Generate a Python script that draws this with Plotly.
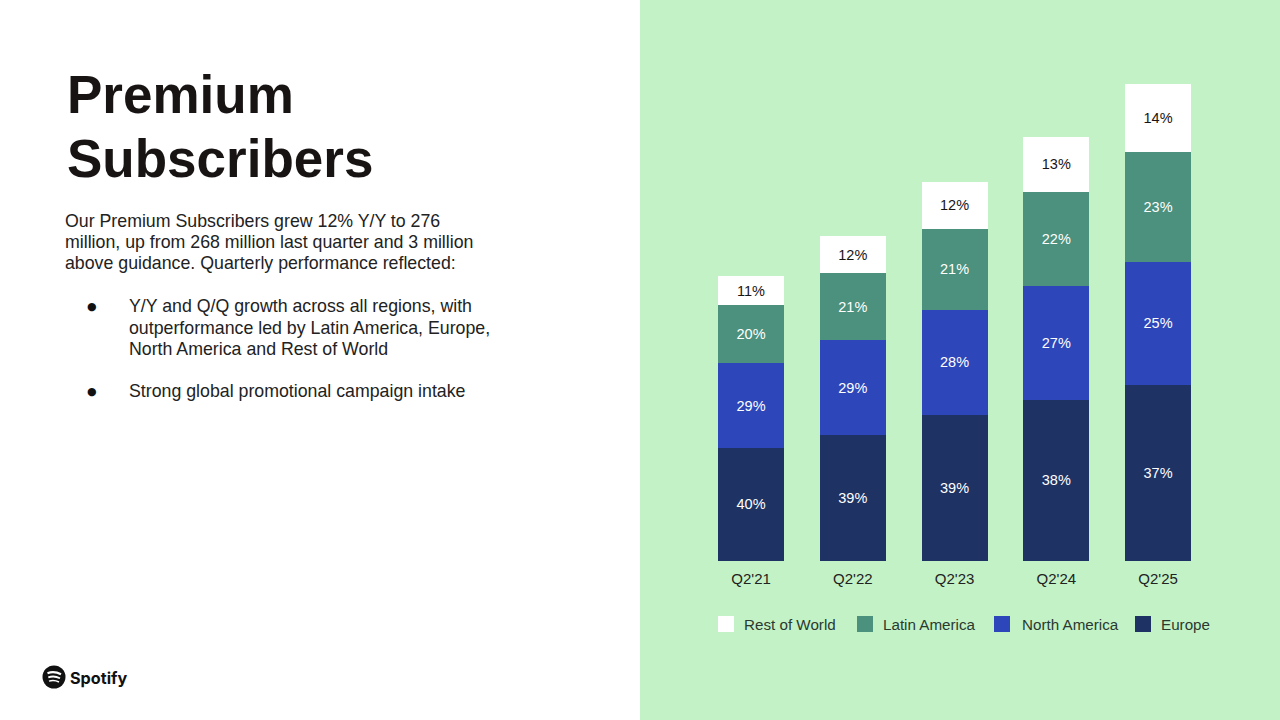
#!/usr/bin/python3
import plotly.graph_objs as go

quarters = ["Q2'21", "Q2'22", "Q2'23", "Q2'24", "Q2'25"]

# subscribers in millions
europe = [65.6, 72.9, 84.5, 93.2, 101.9]
north_america = [48.7, 54.9, 60.8, 66.0, 71.2]
latin_america = [33.6, 38.8, 46.9, 54.4, 63.7]
rest_of_world = [16.8, 21.4, 27.2, 31.8, 39.4]

europe_labels = ['40%', '39%', '39%', '38%', '37%']
north_america_labels = ['29%', '29%', '28%', '27%', '25%']
latin_america_labels = ['20%', '21%', '21%', '22%', '23%']
rest_of_world_labels = ['11%', '12%', '12%', '13%', '14%']

title_lines = ['Premium', 'Subscribers']
intro_lines = [
    'Our Premium Subscribers grew 12% Y/Y to 276',
    'million, up from 268 million last quarter and 3 million',
    'above guidance. Quarterly performance reflected:',
]
bullet_lines = [
    'Y/Y and Q/Q growth across all regions, with',
    'outperformance led by Latin America, Europe,',
    'North America and Rest of World',
]
bullet_two = 'Strong global promotional campaign intake'

FONT = 'Liberation Sans'
W, H = 1280, 720


def px(x):
    return x / W


def py(y):
    return 1 - y / H


def add_text(fig, x, y, text, size, color='#222222', bold=False, family=FONT):
    fig.add_annotation(
        x=px(x), y=py(y), xref='paper', yref='paper', xanchor='left', yanchor='middle',
        text=f'<b>{text}</b>' if bold else text, showarrow=False,
        font=dict(family=family, size=size, color=color), borderpad=0, borderwidth=0,
    )


def add_logo(fig):
    fig.add_shape(type='circle', xref='paper', yref='paper', x0=px(42.5), x1=px(65.5),
                  y0=py(688.5), y1=py(665.5), fillcolor='#111111', line_width=0)
    arcs = [(47.5, 673.2, 54, 670.6, 61, 674.2, 2.2),
            (48.3, 677.4, 54, 675.3, 60, 678.2, 1.8),
            (49, 681.2, 54, 679.6, 59, 682, 1.4)]
    for x0, y0, xc, yc, x1, y1, w in arcs:
        path = f'M {px(x0)} {py(y0)} Q {px(xc)} {py(yc)} {px(x1)} {py(y1)}'
        fig.add_shape(type='path', xref='paper', yref='paper', path=path,
                      line=dict(color='white', width=w))
    add_text(fig, 69.5, 677.5, 'Spotify', 16.2, '#111111', bold=True, family='Inter')


def main():
    fig = go.Figure()

    series = [
        ('Europe', europe, europe_labels, '#1E3264', 'white'),
        ('North America', north_america, north_america_labels, '#2D46B9', 'white'),
        ('Latin America', latin_america, latin_america_labels, '#4B917D', 'white'),
        ('Rest of World', rest_of_world, rest_of_world_labels, '#FFFFFF', '#191414'),
    ]
    for name, values, labels, color, text_color in series:
        fig.add_trace(go.Bar(
            x=quarters, y=values, name=name, text=labels, marker=dict(color=color, line_width=0),
            textposition='inside', insidetextanchor='middle', textangle=0,
            insidetextfont=dict(family=FONT, size=14.5, color=text_color),
        ))

    # green right hand panel
    fig.add_shape(type='rect', xref='paper', yref='paper', x0=0.5, x1=1, y0=0, y1=1,
                  fillcolor='#C3F2C7', line_width=0, layer='below')

    # native legend swatches are fixed at 12px, the slide uses bigger ones
    for x0, (_, _, _, color, _) in zip([1135, 994, 857, 718], series):
        fig.add_shape(type='rect', xref='paper', yref='paper', x0=px(x0), x1=px(x0 + 16),
                      y0=py(632), y1=py(616), fillcolor=color, line_width=0)

    for i, line in enumerate(title_lines):
        add_text(fig, 67, 95 + i * 63, line, 53, '#191414', bold=True)
    for i, line in enumerate(intro_lines):
        add_text(fig, 65, 220.5 + i * 21.5, line, 17.75)
    for i, line in enumerate(bullet_lines):
        add_text(fig, 129, 306 + i * 21.5, line, 17.75)
    add_text(fig, 129, 391.5, bullet_two, 17.75)
    add_text(fig, 87, 306, '●', 11, '#111111', family='DejaVu Sans')
    add_text(fig, 87, 391.5, '●', 11, '#111111', family='DejaVu Sans')
    add_logo(fig)

    fig.update_layout(
        width=W, height=H, margin=dict(l=0, r=0, t=0, b=0),
        paper_bgcolor='white', plot_bgcolor='rgba(0,0,0,0)',
        barmode='stack', bargap=0.35, showlegend=True,
        xaxis=dict(domain=[px(700.2), px(1209)], showgrid=False, zeroline=False, showline=False,
                   ticks='outside', ticklen=4, tickcolor='rgba(0,0,0,0)',
                   tickfont=dict(family=FONT, size=15, color='#222222')),
        yaxis=dict(domain=[py(561), py(77)], range=[0, 280], visible=False),
        legend=dict(orientation='h', traceorder='reversed', x=px(704), y=py(624), xanchor='left',
                    yanchor='middle', bgcolor='rgba(0,0,0,0)', entrywidth=94, entrywidthmode='pixels',
                    font=dict(family=FONT, size=15.2, color='#2A3A30')),
    )

    fig.write_html('out.html', config=dict(displayModeBar=False),
                   post_script="document.body.style.margin='0'")


if __name__ == '__main__':
    main()
